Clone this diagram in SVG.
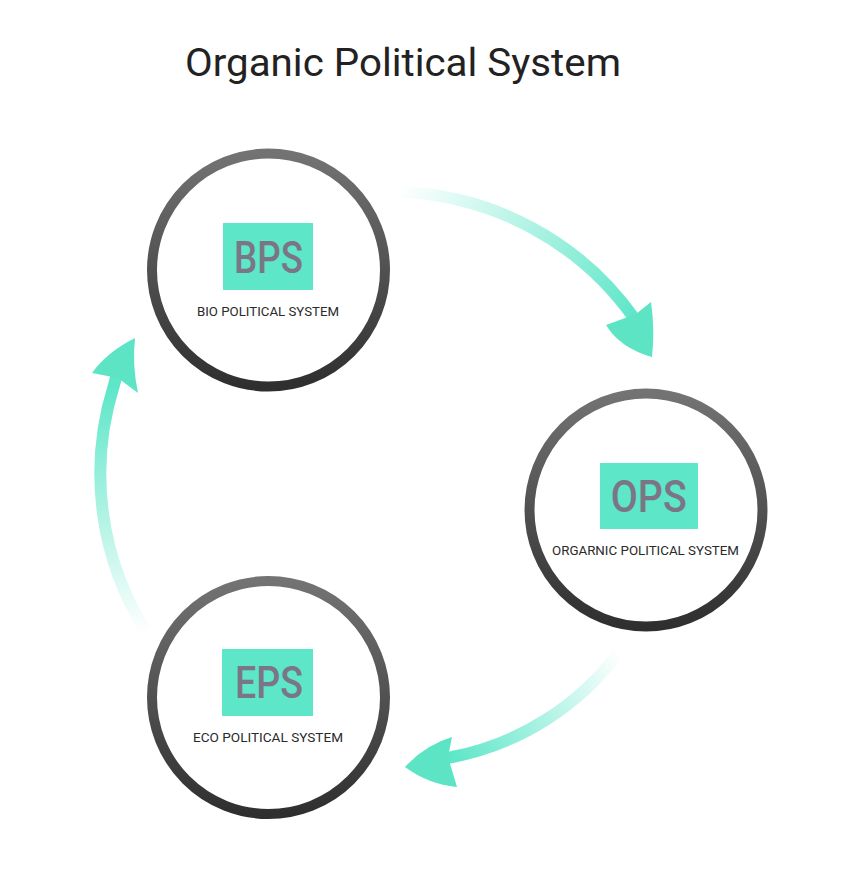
<svg xmlns="http://www.w3.org/2000/svg" width="863" height="888" viewBox="0 0 863 888">
<defs>
<style>
.ring{fill:#fff;stroke:url(#ringGrad);stroke-width:10}
.box{fill:#5de6c8}
.abbr{font-family:Roboto,"Liberation Sans",sans-serif;font-size:45px;font-weight:500;fill:#7b7686;text-anchor:middle}
.lbl{font-family:Roboto,"Liberation Sans",sans-serif;font-size:13px;fill:#2a2a2a;text-anchor:middle}
.title{font-family:Roboto,"Liberation Sans",sans-serif;font-size:38px;fill:#222}
.shaft{fill:none;stroke-width:12}
.head{fill:#5ce4c4}
</style>
<linearGradient id="ringGrad" x1="0" y1="0" x2="0" y2="1">
<stop offset="0" stop-color="#737373"/>
<stop offset="1" stop-color="#2f2f2f"/>
</linearGradient>
<linearGradient id="g1" gradientUnits="userSpaceOnUse" x1="400" y1="192" x2="635" y2="320">
<stop offset="0" stop-color="#5de6c8" stop-opacity="0"/>
<stop offset="1" stop-color="#5de6c8" stop-opacity="1"/>
</linearGradient>
<linearGradient id="g2" gradientUnits="userSpaceOnUse" x1="619" y1="652" x2="450" y2="757">
<stop offset="0" stop-color="#5de6c8" stop-opacity="0"/>
<stop offset="1" stop-color="#5de6c8" stop-opacity="1"/>
</linearGradient>
<linearGradient id="g3" gradientUnits="userSpaceOnUse" x1="147" y1="633" x2="112" y2="385">
<stop offset="0" stop-color="#5de6c8" stop-opacity="0"/>
<stop offset="1" stop-color="#5de6c8" stop-opacity="1"/>
</linearGradient>
</defs>
<rect width="863" height="888" fill="#fff"/>
<text class="title" x="185" y="76" textLength="436" lengthAdjust="spacingAndGlyphs">Organic Political System</text>

<g id="connectors">
<path class="shaft" stroke="url(#g1)" d="M 400 192 A 300 300 0 0 1 634 318 L 644 336"/>
<path class="head" d="M 606 325 L 636 314 L 651 302 Q 655 330 652 357 Q 620 348 606 325 Z"/>
<path class="shaft" stroke="url(#g2)" d="M 619 652 A 272 272 0 0 1 452 757 L 432 762"/>
<path class="head" d="M 452 737 L 448 757 L 457 787 Q 428 784 405 767 Q 425 745 452 737 Z"/>
<path class="shaft" stroke="url(#g3)" d="M 147 633 A 295 295 0 0 1 114 385 L 120 362"/>
<path class="head" d="M 92 373 L 118 378 L 138 393 Q 132 365 135 338 Q 107 352 92 373 Z"/>
</g>

<g id="bps">
<circle class="ring" cx="268.5" cy="270" r="116.5"/>
<rect class="box" x="223" y="223" width="90" height="67"/>
<text class="abbr" x="268.5" y="273" textLength="69" lengthAdjust="spacingAndGlyphs">BPS</text>
<text class="lbl" x="268" y="316" textLength="142" lengthAdjust="spacingAndGlyphs">BIO POLITICAL SYSTEM</text>
</g>

<g id="ops">
<circle class="ring" cx="646" cy="510" r="116.5"/>
<rect class="box" x="600" y="463" width="98" height="66"/>
<text class="abbr" x="648.7" y="512" textLength="76" lengthAdjust="spacingAndGlyphs">OPS</text>
<text class="lbl" x="645.5" y="555" textLength="187" lengthAdjust="spacingAndGlyphs">ORGARNIC POLITICAL SYSTEM</text>
</g>

<g id="eps">
<circle class="ring" cx="268.5" cy="697.5" r="116.5"/>
<rect class="box" x="222" y="649" width="91" height="67"/>
<text class="abbr" x="269" y="698" textLength="68" lengthAdjust="spacingAndGlyphs">EPS</text>
<text class="lbl" x="268" y="742" textLength="150" lengthAdjust="spacingAndGlyphs">ECO POLITICAL SYSTEM</text>
</g>
</svg>
